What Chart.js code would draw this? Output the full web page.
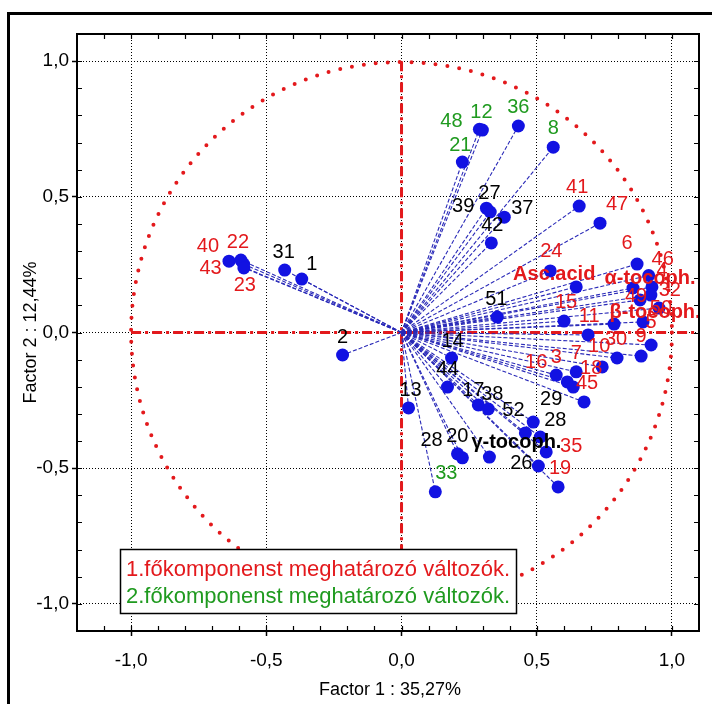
<!DOCTYPE html>
<html><head><meta charset="utf-8">
<script src="https://cdn.jsdelivr.net/npm/chart.js@4"></script>
<style>html,body{margin:0;padding:0;background:#fff}#wrap{width:712px;height:704px}</style>
</head><body><div id="wrap"><canvas id="c" width="712" height="704"></canvas></div>
<script>
// ---------------- data ----------------
const TICK_VALUES = [-1, -0.5, 0, 0.5, 1];
const X_TITLE = 'Factor 1 : 35,27%';
const Y_TITLE = 'Factor 2 : 12,44%';
const LEGEND_LINES = ['1.főkomponenst meghatározó változók.', '2.főkomponenst meghatározó változók.'];

const pointLabels = ['40','22','43','23','31','1','2','48','12','36','21','8','27','39','37','42','41','47',
  '24','Asc.acid','6','α-tocoph.','46','4','49','32','50','β-tocoph.','5','15','11','','30','9','10','7','16','3','18','45',
  '51','14','44','13','17','38','52','29','28','35','26','19','γ-tocoph.','28','20','33'];
const factor1 = [-0.638,-0.594,-0.584,-0.583,-0.432,-0.369,-0.218,0.288,0.299,0.432,0.225,0.561,0.314,0.328,0.380,0.332,0.657,0.734,
  0.550,0.646,0.871,0.856,0.914,0.926,0.882,0.922,0.952,0.786,0.893,0.601,0.690,0.923,0.797,0.886,0.742,0.646,0.572,0.613,0.635,0.675,
  0.354,0.185,0.170,0.026,0.284,0.321,0.458,0.487,0.513,0.535,0.506,0.579,0.325,0.207,0.225,0.125];
const factor2 = [0.263,0.267,0.252,0.238,0.230,0.197,-0.083,0.749,0.746,0.761,0.628,0.683,0.458,0.444,0.425,0.330,0.466,0.403,
  0.227,0.168,0.252,0.164,0.210,0.168,0.120,0.138,0.090,0.031,0.039,0.042,-0.009,-0.046,-0.094,-0.087,-0.127,-0.145,-0.157,-0.182,-0.201,-0.256,
  0.057,-0.094,-0.201,-0.278,-0.267,-0.282,-0.370,-0.330,-0.385,-0.440,-0.492,-0.569,-0.459,-0.447,-0.462,-0.587];
// 1 = defines principal component 1 (red), 2 = defines principal component 2 (green), 0 = other (black)
const component = [1,1,1,1,0,0,0,2,2,2,2,2,0,0,0,0,1,1,
  1,1,1,1,1,1,1,1,1,1,1,1,1,1,1,1,1,1,1,1,1,1,
  0,0,0,0,0,0,0,0,0,1,0,1,0,0,0,2];

// label placement (pixel offsets from each dot) — layout only
const labelOffset = [[-21,-15],[-3,-18],[-33,4],[1,18],[-1,-18],[10,-15],[0,-18],[-28,-8],[-1,-18],[0,-19],[-2,-17],[0,-19],[3,-15],[-27,-6],[18,-9],[1,-17],[-2,-19],[17,-19],
  [1,-19],[-22,-12],[-10,-21],[17,-10],[14,-16],[10,-16],[-4,-3],[19,-5],[2,0],[41,-12],[8,1],[2,-19],[1,-18],[0,0],[-1,-19],[0,-20],[-3,-20],[0,-18],[-20,-13],[-11,-24],[18,-19],[3,-18],
  [-1,-18],[1,-17],[0,-18],[2,-17],[-5,-14],[4,-15],[-12,-22],[18,-23],[15,-16],[25,-5],[-17,-3],[2,-18],[27,-15],[-26,-13],[-5,-21],[11,-18]];

// ---------------- drawing ----------------
const FONT = '"Liberation Sans", Arial, sans-serif';
const RED = '#e3191c', GREEN = '#1f9a1f', BLUE = '#1212e2', LINEBLUE = '#2a2ab8';
const fmt = v => (Math.abs(v) < 1e-9 ? 0 : v).toFixed(1).replace('.', ',');

const lineSets = factor1.map((x, i) => ({
  type: 'scatter', showLine: true,
  data: [{x: 0, y: 0}, {x: x, y: factor2[i]}],
  borderColor: LINEBLUE, borderWidth: 1.1, borderDash: [4, 2],
  pointRadius: 0, pointHoverRadius: 0, fill: false, order: 2
}));
const dotSet = {
  type: 'scatter',
  data: factor1.map((x, i) => ({x: x, y: factor2[i]})),
  backgroundColor: BLUE, borderColor: BLUE, borderWidth: 0,
  pointRadius: 6.5, pointHoverRadius: 6.5, order: 1
};

const decor = {
  id: 'decor',
  beforeDraw(chart) {
    const c = chart.ctx;
    c.save();
    c.fillStyle = '#fff'; c.fillRect(0, 0, chart.width, chart.height);
    c.strokeStyle = '#000'; c.lineWidth = 3;
    c.strokeRect(8.5, 13.5, 800, 800);
    c.restore();
  },
  beforeDatasetsDraw(chart) {
    const c = chart.ctx, xs = chart.scales.x, ys = chart.scales.y, a = chart.chartArea;
    c.save();
    c.beginPath(); c.rect(a.left, a.top, a.right - a.left, a.bottom - a.top); c.clip();
    const x0 = xs.getPixelForValue(0), y0 = ys.getPixelForValue(0);
    // red reference cross
    c.strokeStyle = RED; c.lineWidth = 3; c.setLineDash([10, 4, 3, 4]);
    c.beginPath(); c.moveTo(xs.getPixelForValue(-1), y0); c.lineTo(xs.getPixelForValue(1.1), y0); c.stroke();
    c.beginPath(); c.moveTo(x0, ys.getPixelForValue(1)); c.lineTo(x0, ys.getPixelForValue(-1)); c.stroke();
    // unit circle, dotted
    const r = xs.getPixelForValue(1) - x0;
    c.setLineDash([0, 12]); c.lineCap = 'round'; c.lineWidth = 4;
    c.beginPath(); c.arc(x0, y0, r, 0, Math.PI * 2); c.stroke();
    c.restore();
  },
  afterDatasetsDraw(chart) {
    const c = chart.ctx, xs = chart.scales.x, ys = chart.scales.y, a = chart.chartArea;
    c.save();
    // point labels
    c.textAlign = 'center'; c.textBaseline = 'middle';
    pointLabels.forEach((t, i) => {
      if (!t) return;
      const px = xs.getPixelForValue(factor1[i]) + labelOffset[i][0];
      const py = ys.getPixelForValue(factor2[i]) + labelOffset[i][1];
      const bold = isNaN(Number(t));
      c.font = (bold ? 'bold 20px ' : '20px ') + FONT;
      c.fillStyle = component[i] === 1 ? RED : component[i] === 2 ? GREEN : '#000';
      c.fillText(t, px, py);
    });
    // frame
    c.strokeStyle = '#000'; c.lineWidth = 2; c.setLineDash([]);
    c.strokeRect(a.left, a.top, a.right - a.left, a.bottom - a.top);
    // inward minor ticks every 0.1
    c.lineWidth = 1.2;
    c.beginPath();
    for (let k = -11; k <= 10; k++) {
      const px = Math.round(xs.getPixelForValue(k / 10)) + 0.5;
      c.moveTo(px, a.top); c.lineTo(px, a.top + 5);
      c.moveTo(px, a.bottom); c.lineTo(px, a.bottom - 5);
    }
    for (let k = -10; k <= 10; k++) {
      const py = Math.round(ys.getPixelForValue(k / 10)) + 0.5;
      c.moveTo(a.left, py); c.lineTo(a.left + 5, py);
      c.moveTo(a.right, py); c.lineTo(a.right - 5, py);
    }
    c.stroke();
    // legend box
    c.font = '22px ' + FONT;
    const w = Math.max(...LEGEND_LINES.map(s => c.measureText(s).width));
    const bx = 120, by = 549, bw = w + 12, bh = 64;
    c.fillStyle = '#fff'; c.fillRect(bx, by, bw, bh);
    c.strokeStyle = '#000'; c.lineWidth = 1.5; c.strokeRect(bx + 0.5, by + 0.5, bw, bh);
    c.textAlign = 'left'; c.textBaseline = 'middle';
    c.fillStyle = RED; c.fillText(LEGEND_LINES[0], bx + 6, by + 21);
    c.fillStyle = GREEN; c.fillText(LEGEND_LINES[1], bx + 6, by + 48);
    c.restore();
  },
  afterDraw(chart) {
    const c = chart.ctx, a = chart.chartArea;
    c.save();
    c.fillStyle = '#000'; c.font = '18px ' + FONT;
    c.textAlign = 'center'; c.textBaseline = 'middle';
    c.fillText(X_TITLE, (a.left + a.right) / 2 + 2, 690);
    c.translate(31, (a.top + a.bottom) / 2);
    c.rotate(-Math.PI / 2);
    c.fillText(Y_TITLE, 0, 0);
    c.restore();
  }
};

const axisCommon = (min, max) => ({
  type: 'linear', min: min, max: max,
  afterBuildTicks: s => { s.ticks = TICK_VALUES.map(v => ({value: v})); },
  ticks: {callback: v => fmt(v), font: {family: FONT, size: 19}, color: '#000', autoSkip: false, maxRotation: 0},
  grid: {color: '#000', lineWidth: 1, drawTicks: true, tickLength: 5, tickColor: '#000', tickBorderDash: [], tickWidth: 1.5},
  border: {display: false, dash: [1, 2]}
});
const xAxis = axisCommon(-1.2, 1.1);
xAxis.afterFit = s => { s.height = 73; };
xAxis.ticks.padding = 13;
const yAxis = axisCommon(-1.1, 1.1);
yAxis.afterFit = s => { s.width = 77; };
yAxis.ticks.padding = 3;

new Chart(document.getElementById('c'), {
  type: 'scatter',
  data: {datasets: [dotSet].concat(lineSets)},
  options: {
    responsive: false, animation: false, devicePixelRatio: 1, events: [],
    layout: {padding: {top: 34, right: 13, left: 0, bottom: 0}},
    plugins: {legend: {display: false}, tooltip: {enabled: false}},
    scales: {x: xAxis, y: yAxis}
  },
  plugins: [decor]
});
</script>
</body></html>
